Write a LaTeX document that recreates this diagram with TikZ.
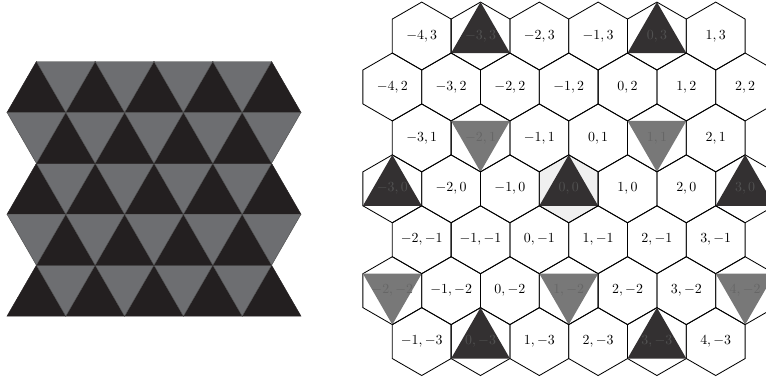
\documentclass[tikz,border=0pt]{standalone}
\usepackage{amsmath}
\usepackage{tikz}

\definecolor{tiledark}{HTML}{231F20}
\definecolor{tilegrey}{HTML}{6D6E71}
\definecolor{hexdark}{HTML}{333031}
\definecolor{hexgrey}{HTML}{787878}

\begin{document}
\begin{tikzpicture}[
    x=42.34pt, y=42.34pt,
    % Define styles for the tiling and the hexagonal grid
    darktile/.style={fill=tiledark, draw=tiledark, line width=0.3pt},
    greytile/.style={fill=tilegrey, draw=black!70, line width=0.3pt},
    hexcell/.style={draw=black, line width=0.6pt, line join=miter},
    centrecell/.style={fill=black!6},
    uptri/.style={fill=hexdark},
    downtri/.style={fill=hexgrey},
    celllabel/.style={inner sep=0pt},
    darklabel/.style={celllabel, text=black!68},
    greylabel/.style={celllabel, text=black!60}
]
\def\R{0.5774}
\def\h{0.866}
\def\xL{-9.553}

% --- Frame ---
\useasboundingbox (-9.672,-3.269) rectangle (3.355,3.211);
\clip (-9.672,-3.269) rectangle (3.355,3.211);

% --- Triangle tiling (left) ---

% Rows with dark triangles on the outside
\foreach \i in {0,2,4} {
  \pgfmathsetmacro{\yt}{2.165-\h*\i}
  \pgfmathsetmacro{\yb}{\yt-\h}
  \foreach \k in {0,...,4}
    \path[darktile] (\xL+\k,\yb) -- ++(1,0) -- ++(-0.5,\h) -- cycle;
  \foreach \k in {0,...,3}
    \path[greytile] (\xL+\k+0.5,\yt) -- ++(1,0) -- ++(-0.5,-\h) -- cycle;
}

% Rows with grey triangles on the outside
\foreach \i in {1,3} {
  \pgfmathsetmacro{\yt}{2.165-\h*\i}
  \pgfmathsetmacro{\yb}{\yt-\h}
  \foreach \k in {0,...,3}
    \path[darktile] (\xL+\k+0.5,\yb) -- ++(1,0) -- ++(-0.5,\h) -- cycle;
  \foreach \k in {0,...,4}
    \path[greytile] (\xL+\k,\yt) -- ++(1,0) -- ++(-0.5,-\h) -- cycle;
}

% --- Hexagonal grid (right) ---

% Shaded centre cell
\fill[centrecell] (90:\R) -- (150:\R) -- (210:\R) -- (270:\R) -- (330:\R) -- (30:\R) -- cycle;

\foreach \r/\qa/\qb in {3/-4/1, 2/-4/2, 1/-3/2, 0/-3/3, -1/-2/3, -2/-2/4, -3/-1/4} {
  \foreach \q in {\qa,...,\qb} {
    \pgfmathtruncatemacro{\kind}{(Mod(\q,3)==0 && Mod(\r,3)==0) ? 1 : ((Mod(\q,3)==1 && Mod(\r,3)==1) ? 2 : 0)}
    \begin{scope}[shift={({\q+\r/2},{\r*\h})}]
      \draw[hexcell] (90:\R) -- (150:\R) -- (210:\R) -- (270:\R) -- (330:\R) -- (30:\R) -- cycle;
      \ifcase\kind
        \node[celllabel] (h\q\r) at (0,0) {$\q,\r$};
      \or
        \fill[uptri] (90:\R) -- (210:\R) -- (330:\R) -- cycle;
        \node[darklabel] (h\q\r) at (0,0) {$\q,\r$};
      \or
        \fill[downtri] (30:\R) -- (150:\R) -- (270:\R) -- cycle;
        \node[greylabel] (h\q\r) at (0,0) {$\q,\r$};
      \fi
    \end{scope}
  }
}

\end{tikzpicture}
\end{document}
